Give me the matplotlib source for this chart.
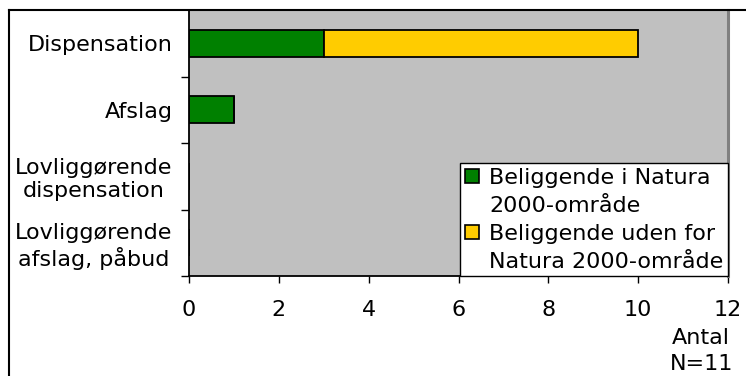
import matplotlib
matplotlib.use("Agg")
import matplotlib.pyplot as plt
from matplotlib.lines import Line2D
from matplotlib.patches import Patch

categories = ["Dispensation", "Afslag", "Lovliggørende\ndispensation", "Lovliggørende\nafslag, påbud"]
natura_in = [3, 1, 0, 0]
natura_out = [7, 0, 0, 0]
series_labels = ["Beliggende i Natura\n2000-område", "Beliggende uden for\nNatura 2000-område"]
xticks = [0, 2, 4, 6, 8, 10, 12]

plt.rcParams['font.family'] = ['DejaVu Sans']
fs = 16

fig = plt.figure(figsize=(7.46, 3.76), dpi=100)
ax = fig.add_axes([189/746, 1-276/376, (728-189)/746, (276-10)/376])
ax.set_facecolor('#C0C0C0')

green = '#008000'
yellow = '#FFCC00'
ypos = list(range(len(categories)))
ax.barh(ypos, natura_in, height=0.4, color=green, edgecolor='black', linewidth=1.3)
ax.barh(ypos, natura_out, left=natura_in, height=0.4, color=yellow, edgecolor='black', linewidth=1.3)

ax.set_ylim(len(categories)-0.5, -0.5)
ax.set_xlim(0, 12)
ax.set_xticks(xticks)
ax.set_xticklabels([str(v) for v in xticks], fontsize=fs)
ax.set_yticks(ypos)
ax.set_yticklabels(categories, fontsize=fs, multialignment='center', linespacing=1.2)
ax.tick_params(axis='y', length=0, pad=12)
ax.set_yticks([i + 0.5 for i in ypos[:-1]] + [len(categories)-0.5], minor=True)
ax.tick_params(axis='y', which='minor', length=6, width=1, direction='out')
ax.tick_params(axis='x', length=5, width=1, direction='out', pad=12)

for s in ['left', 'bottom']:
    ax.spines[s].set_color('black')
    ax.spines[s].set_linewidth(1.3)
ax.spines['top'].set_color('#808080')
ax.spines['top'].set_linewidth(1.3)
ax.spines['right'].set_color('#808080')
ax.spines['right'].set_linewidth(2.2)

# legend: one entry per text line so the swatch sits on the first line of each label
handles, labels = [], []
for col, lab in zip([green, yellow], series_labels):
    lines = lab.split("\n")
    handles.append(Patch(facecolor=col, edgecolor='black', linewidth=1.2))
    labels.append(lines[0])
    for extra in lines[1:]:
        handles.append(Patch(facecolor='none', edgecolor='none'))
        labels.append(extra)
leg = ax.legend(handles, labels, loc='lower right', bbox_to_anchor=(1.0, 0.0), fontsize=fs,
                frameon=True, fancybox=False, edgecolor='black', framealpha=1, borderaxespad=0,
                handlelength=0.65, handleheight=0.6, handletextpad=0.45, borderpad=0.2,
                labelspacing=0.36)
leg.get_frame().set_linewidth(1.0)

fig.text(730/746, 1-338/376, "Antal", ha='right', va='center', fontsize=fs)
fig.text(733/746, 1-364/376, "N=11", ha='right', va='center', fontsize=fs)

# figure border lines (left and top)
fig.add_artist(Line2D([9/746, 9/746], [0, 1-10/376], transform=fig.transFigure, color='black', linewidth=1.5))
fig.add_artist(Line2D([9/746, 1], [1-10/376, 1-10/376], transform=fig.transFigure, color='black', linewidth=1.5))

fig.savefig("out.png", dpi=100)
